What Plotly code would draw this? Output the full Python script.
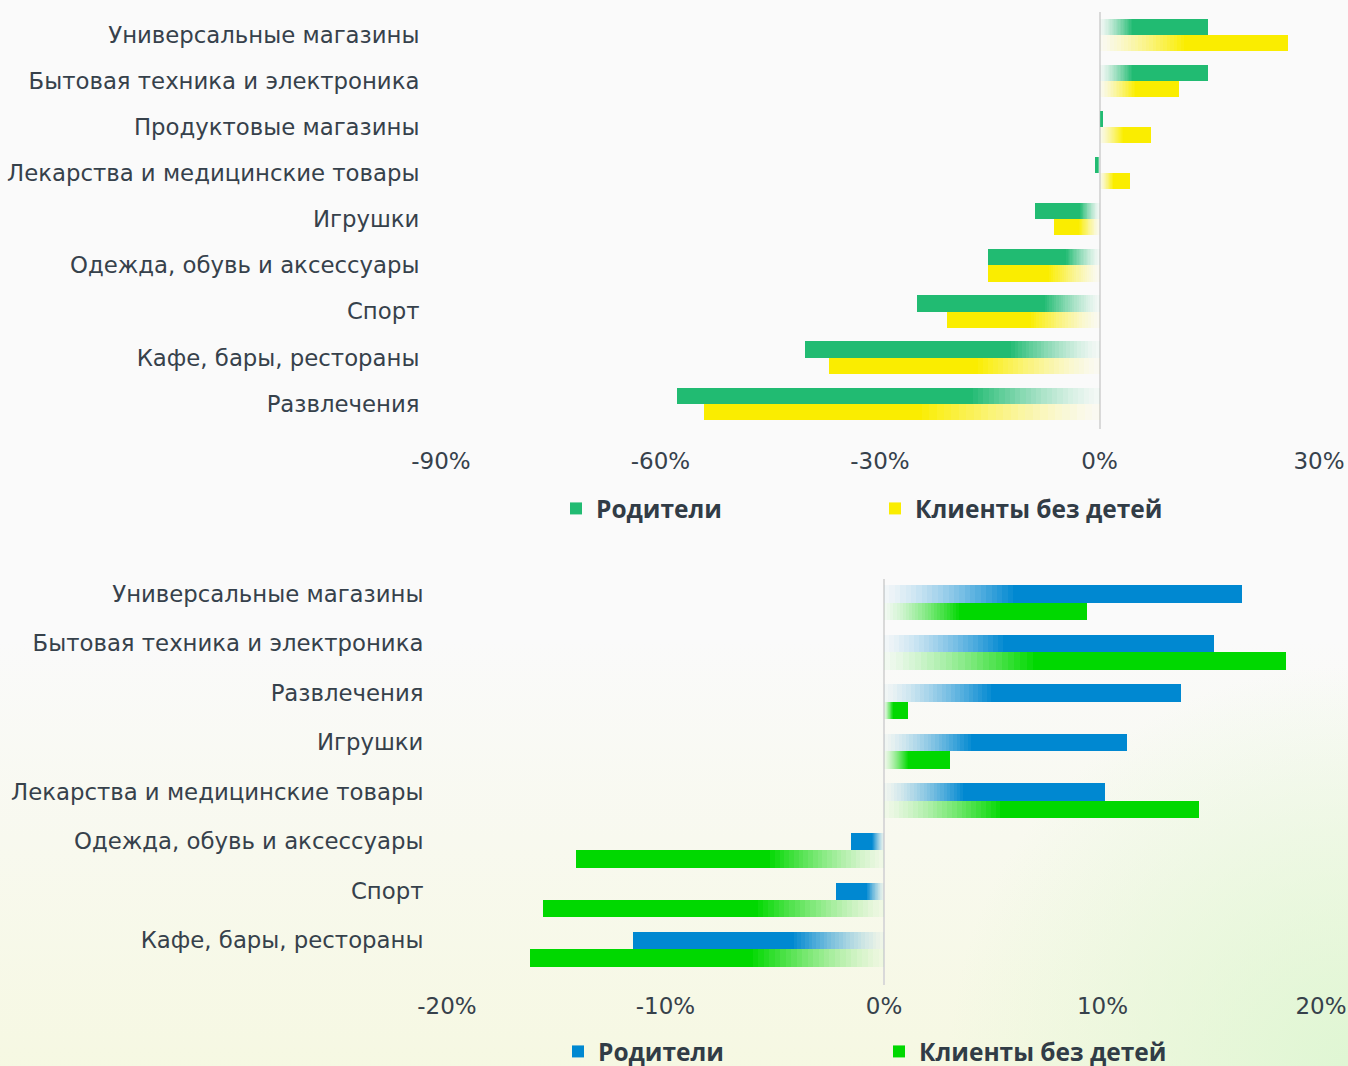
import base64
import plotly.graph_objs as go

# ---------------- data ----------------
top_categories = ['Универсальные магазины', 'Бытовая техника и электроника', 'Продуктовые магазины',
                  'Лекарства и медицинские товары', 'Игрушки', 'Одежда, обувь и аксессуары',
                  'Спорт', 'Кафе, бары, рестораны', 'Развлечения']
top_parents = [14.8, 14.8, 0.5, -0.6, -8.8, -15.2, -24.9, -40.3, -57.7]
top_no_kids = [25.8, 10.8, 7.1, 4.2, -6.2, -15.3, -20.9, -37.0, -54.0]

bottom_categories = ['Универсальные магазины', 'Бытовая техника и электроника', 'Развлечения',
                     'Игрушки', 'Лекарства и медицинские товары', 'Одежда, обувь и аксессуары',
                     'Спорт', 'Кафе, бары, рестораны']
bottom_parents = [16.4, 15.1, 13.6, 11.1, 10.1, -1.5, -2.2, -11.5]
bottom_no_kids = [9.3, 18.4, 1.1, 3.0, 14.4, -14.1, -15.6, -16.2]

top_ticks = [-90, -60, -30, 0, 30]
bottom_ticks = [-20, -10, 0, 10, 20]

series_names = ['Родители', 'Клиенты без детей']

TEXT = '#36414b'
BG = '#fafafa'
W = 0.35        # bar thickness (category units)
STEPS = 24


def rgba(rgb, a):
    return f'rgba({rgb[0]},{rgb[1]},{rgb[2]},{a:.3f})'


def gradient_bars(values, cats, rgb, name, offset, xaxis, yaxis, legend, fade):
    # bar = faded segments near zero + one solid segment up to the value
    traces = []
    for j in range(STEPS):
        traces.append(go.Bar(
            y=cats, x=[v * fade / STEPS for v in values],
            base=[v * fade * j / STEPS for v in values],
            orientation='h', width=W, offset=offset,
            marker=dict(color=rgba(rgb, 0.03 + 0.95 * ((j + 0.5) / STEPS) ** 1.3), line=dict(width=0)),
            xaxis=xaxis, yaxis=yaxis, showlegend=False, hoverinfo='skip'))
    traces.append(go.Bar(
        y=cats, x=[v * (1 - fade) for v in values],
        base=[v * fade for v in values],
        orientation='h', width=W, offset=offset, name=name,
        marker=dict(color=rgba(rgb, 1), line=dict(width=0)),
        xaxis=xaxis, yaxis=yaxis, legend=legend, showlegend=True))
    return traces


green = (33, 187, 114)
yellow = (250, 237, 0)
blue = (0, 136, 209)
lime = (0, 216, 0)

SHIFT = 0.18  # lower chart: bar pairs sit a little below their labels

data = []
data += gradient_bars(top_parents, top_categories, green, series_names[0], -W, 'x', 'y', 'legend', 0.3)
data += gradient_bars(top_no_kids, top_categories, yellow, series_names[1], 0, 'x', 'y', 'legend', 0.45)
data += gradient_bars(bottom_parents, bottom_categories, blue, series_names[0], -W + SHIFT, 'x2', 'y2', 'legend2', 0.36)
data += gradient_bars(bottom_no_kids, bottom_categories, lime, series_names[1], SHIFT, 'x2', 'y2', 'legend2', 0.37)

tick_font = dict(family='DejaVu Sans, sans-serif', size=23, color=TEXT)
cat_font = dict(family='DejaVu Sans, sans-serif', size=22.8, color=TEXT)
legend_font = dict(family='Open Sans, sans-serif', size=24.5, color='#313c46', weight='bold')

# faint yellow-green wash behind the lower chart
bg_svg = '''<svg xmlns="http://www.w3.org/2000/svg" width="1348" height="1066" preserveAspectRatio="none">
<defs>
<linearGradient id="v" x1="0" y1="0" x2="0" y2="1">
<stop offset="0.6" stop-color="#f4f7d8" stop-opacity="0"/>
<stop offset="1" stop-color="#f4f7d8" stop-opacity="0.7"/>
</linearGradient>
<radialGradient id="r" gradientUnits="userSpaceOnUse" cx="1348" cy="1066" r="400">
<stop offset="0" stop-color="#ddf6d2" stop-opacity="0.9"/>
<stop offset="1" stop-color="#ddf6d2" stop-opacity="0"/>
</radialGradient>
</defs>
<rect width="1348" height="1066" fill="url(#v)"/>
<rect width="1348" height="1066" fill="url(#r)"/>
</svg>'''
bg_uri = 'data:image/svg+xml;base64,' + base64.b64encode(bg_svg.encode('utf-8')).decode('ascii')

layout = go.Layout(
    width=1348, height=1066,
    paper_bgcolor=BG, plot_bgcolor='rgba(0,0,0,0)',
    margin=dict(l=0, r=0, t=0, b=0, autoexpand=False),
    barmode='overlay',
    bargap=0,
    images=[dict(source=bg_uri, xref='paper', yref='paper', x=0, y=1, sizex=1, sizey=1,
                 xanchor='left', yanchor='top', sizing='stretch', layer='below')],
    xaxis=dict(domain=[441 / 1348, 1319 / 1348], range=[-90, 30], tickvals=top_ticks,
               ticktext=[f'{t}%' for t in top_ticks], showgrid=False,
               zeroline=True, zerolinecolor='#d9d9d9', zerolinewidth=2,
               ticks='outside', ticklen=11, tickcolor='rgba(0,0,0,0)', tickfont=tick_font,
               anchor='y', automargin=False, fixedrange=True),
    yaxis=dict(domain=[1 - 429 / 1066, 1 - 12 / 1066], range=[8.55, -0.5], showgrid=False,
               ticks='outside', ticklen=16, tickcolor='rgba(0,0,0,0)', tickfont=cat_font,
               anchor='x', automargin=False, fixedrange=True),
    xaxis2=dict(domain=[447 / 1348, 1321 / 1348], range=[-20, 20], tickvals=bottom_ticks,
                ticktext=[f'{t}%' for t in bottom_ticks], showgrid=False,
                zeroline=True, zerolinecolor='#d9d9d9', zerolinewidth=2,
                ticks='outside', ticklen=0, tickcolor='rgba(0,0,0,0)', tickfont=tick_font,
                anchor='y2', automargin=False, fixedrange=True),
    yaxis2=dict(domain=[1 - 985 / 1066, 1 - 579 / 1066], range=[7.9, -0.3], showgrid=False,
                ticks='outside', ticklen=18, tickcolor='rgba(0,0,0,0)', tickfont=cat_font,
                anchor='x2', automargin=False, fixedrange=True),
    legend=dict(orientation='h', x=556 / 1348, y=1 - 486 / 1066, xanchor='left', yanchor='top',
                entrywidth=274, font=legend_font, bgcolor='rgba(0,0,0,0)'),
    legend2=dict(orientation='h', x=558 / 1348, y=-8 / 1066, xanchor='left', yanchor='bottom',
                 entrywidth=276, font=legend_font, bgcolor='rgba(0,0,0,0)'),
)

fig = go.Figure(data=data, layout=layout)
fig.write_html("out.html", config={'displayModeBar': False},
               post_script="document.body.style.margin='0';")
